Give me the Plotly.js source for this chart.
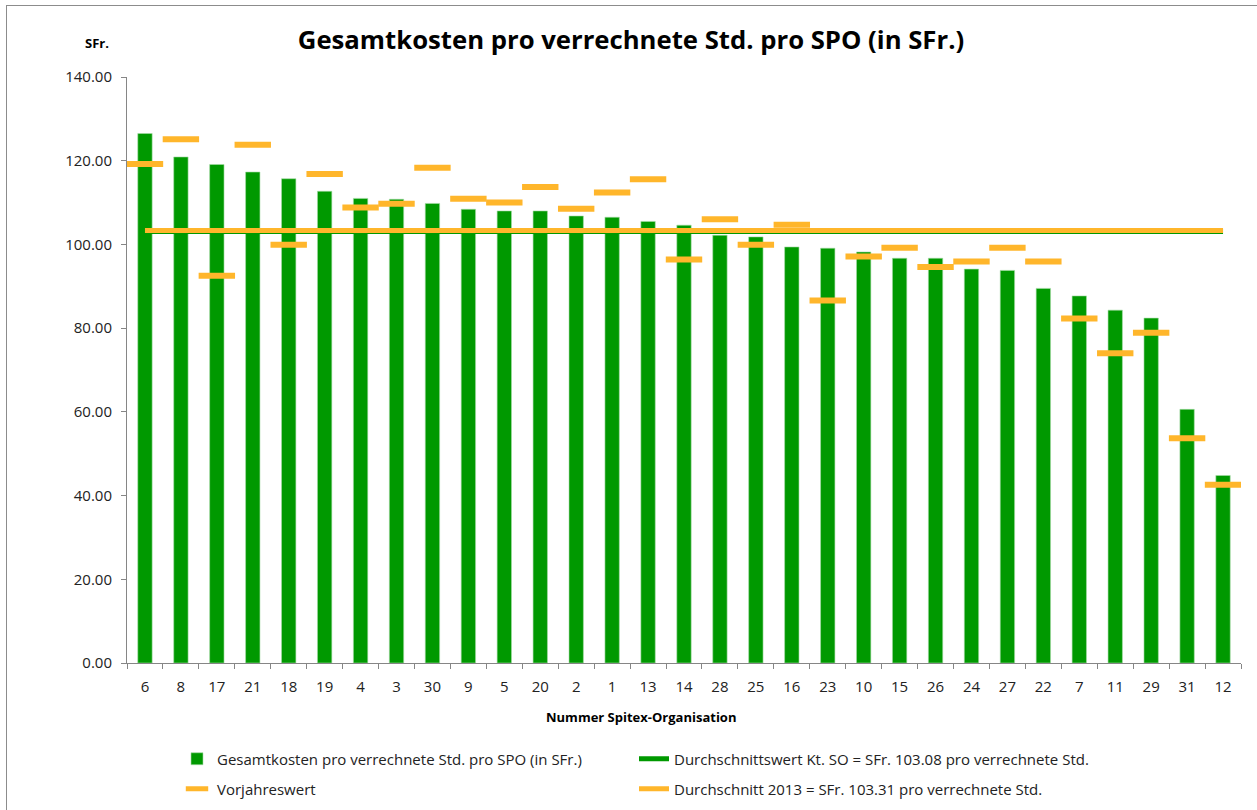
<!DOCTYPE html>
<html>
<head>
<meta charset="utf-8">
<script src="https://cdn.plot.ly/plotly-3.0.1.min.js"></script>
<style>
  html, body { margin: 0; padding: 0; background: #fff; }
  #wrap { position: relative; width: 1257px; height: 810px; overflow: hidden; }
  #chart { position: absolute; left: 0; top: 0; width: 1257px; height: 810px; }
  #frame { position: absolute; left: 6px; top: 5px; width: 1300px; height: 900px;
           border-left: 1.5px solid #8c8c8c; border-top: 1.5px solid #8c8c8c; pointer-events: none; }
</style>
</head>
<body>
<div id="wrap">
  <div id="chart"></div>
  <div id="frame"></div>
</div>
<script>
// ---- data ----
const categories = ['6','8','17','21','18','19','4','3','30','9','5','20','2','1','13','14','28','25','16','23','10','15','26','24','27','22','7','11','29','31','12'];
const costs = [126.5, 120.9, 119.1, 117.3, 115.7, 112.7, 111.0, 110.8, 109.8, 108.4, 108.0, 108.0, 106.8, 106.5, 105.5, 104.6, 102.2, 101.8, 99.4, 99.1, 98.2, 96.7, 96.7, 94.1, 93.8, 89.5, 87.7, 84.3, 82.4, 60.6, 44.8];
const previousYear = [119.2, 125.1, 92.5, 123.8, 99.9, 116.8, 108.8, 109.7, 118.3, 110.9, 110.0, 113.7, 108.5, 112.4, 115.6, 96.4, 106.0, 99.9, 104.7, 86.6, 97.1, 99.2, 94.6, 95.9, 99.2, 95.9, 82.3, 74.0, 78.9, 53.7, 42.6];
const avgKanton = 103.08;
const avg2013 = 103.31;
const yTicks = [0, 20, 40, 60, 80, 100, 120, 140];

const seriesNames = {
  costs: 'Gesamtkosten pro verrechnete Std. pro SPO (in SFr.)',
  avgKanton: 'Durchschnittswert Kt. SO = SFr. 103.08 pro verrechnete Std.',
  prev: 'Vorjahreswert',
  avg2013: 'Durchschnitt 2013 = SFr. 103.31 pro verrechnete Std.'
};

const GREEN = '#009900';
const ORANGE = '#FFB62B';
const FONT = '"Open Sans", Lato, sans-serif';

const traces = [
  {
    type: 'bar', x: categories, y: costs, name: seriesNames.costs,
    marker: { color: GREEN, line: { color: '#a8dca8', width: 0.6 } },
    legend: 'legend', hoverinfo: 'x+y'
  },
  {
    type: 'scatter', mode: 'lines', x: categories, y: categories.map(() => avgKanton),
    name: seriesNames.avgKanton, line: { color: GREEN, width: 5 },
    legend: 'legend'
  },
  {
    type: 'scatter', mode: 'markers', x: categories, y: previousYear,
    name: seriesNames.prev,
    marker: { symbol: 'line-ew', size: 26, color: ORANGE, line: { color: ORANGE, width: 6 } },
    legend: 'legend2'
  },
  {
    type: 'scatter', mode: 'lines', x: categories, y: categories.map(() => avg2013),
    name: seriesNames.avg2013, line: { color: ORANGE, width: 5 },
    legend: 'legend2'
  }
];

const plotW = 1257 - 127 - 16;
const plotH = 810 - 77 - 147;

const layout = {
  width: 1257, height: 810,
  paper_bgcolor: 'rgba(0,0,0,0)', plot_bgcolor: 'rgba(0,0,0,0)',
  font: { family: FONT, size: 14, color: '#222' },
  margin: { l: 127, r: 16, t: 77, b: 147, pad: 0 },
  bargap: 0.6,
  showlegend: true,
  title: {
    text: '<b>Gesamtkosten pro verrechnete Std. pro SPO (in SFr.)</b>',
    font: { family: FONT, size: 25.7, color: '#000' },
    x: 631 / 1257, xref: 'container', xanchor: 'center',
    y: 1 - 40 / 810, yref: 'container', yanchor: 'middle'
  },
  xaxis: {
    type: 'category', range: [-0.5, categories.length - 0.5],
    showline: true, linecolor: '#868686', linewidth: 1,
    ticks: 'outside', tickson: 'boundaries', ticklen: 5, tickcolor: '#868686',
    ticklabelstandoff: 10,
    showgrid: false, zeroline: false,
    tickfont: { family: FONT, size: 15, color: '#222' }
  },
  yaxis: {
    range: [0, 140], tickvals: yTicks, tickformat: '.2f',
    showline: true, linecolor: '#868686', linewidth: 1,
    ticks: 'outside', ticklen: 5, tickcolor: '#868686',
    ticklabelstandoff: 6,
    showgrid: false, zeroline: false,
    tickfont: { family: FONT, size: 15, color: '#222' }
  },
  annotations: [
    { text: '<b>SFr.</b>', xref: 'paper', yref: 'paper', x: -16 / plotW, xanchor: 'right',
      y: 1 + 34 / plotH, yanchor: 'middle', showarrow: false, font: { family: FONT, size: 13, color: '#000' } },
    { text: '<b>Nummer Spitex-Organisation</b>', xref: 'paper', yref: 'paper',
      x: (641 - 127) / plotW, xanchor: 'center', y: -(717 - 663) / plotH, yanchor: 'middle', showarrow: false,
      font: { family: FONT, size: 13, color: '#000' } }
  ],
  legend: {
    orientation: 'h', xref: 'container', yref: 'container',
    x: 177 / 1257, xanchor: 'left', y: 1 - 759 / 810, yanchor: 'middle',
    entrywidth: 412, entrywidthmode: 'pixels',
    font: { family: FONT, size: 15, color: '#222' }, bgcolor: 'rgba(0,0,0,0)', traceorder: 'normal'
  },
  legend2: {
    orientation: 'h', xref: 'container', yref: 'container',
    x: 177 / 1257, xanchor: 'left', y: 1 - 789 / 810, yanchor: 'middle',
    entrywidth: 412, entrywidthmode: 'pixels',
    font: { family: FONT, size: 15, color: '#222' }, bgcolor: 'rgba(0,0,0,0)', traceorder: 'normal'
  }
};

Plotly.newPlot('chart', traces, layout, { displayModeBar: false, staticPlot: true });
</script>
</body>
</html>
